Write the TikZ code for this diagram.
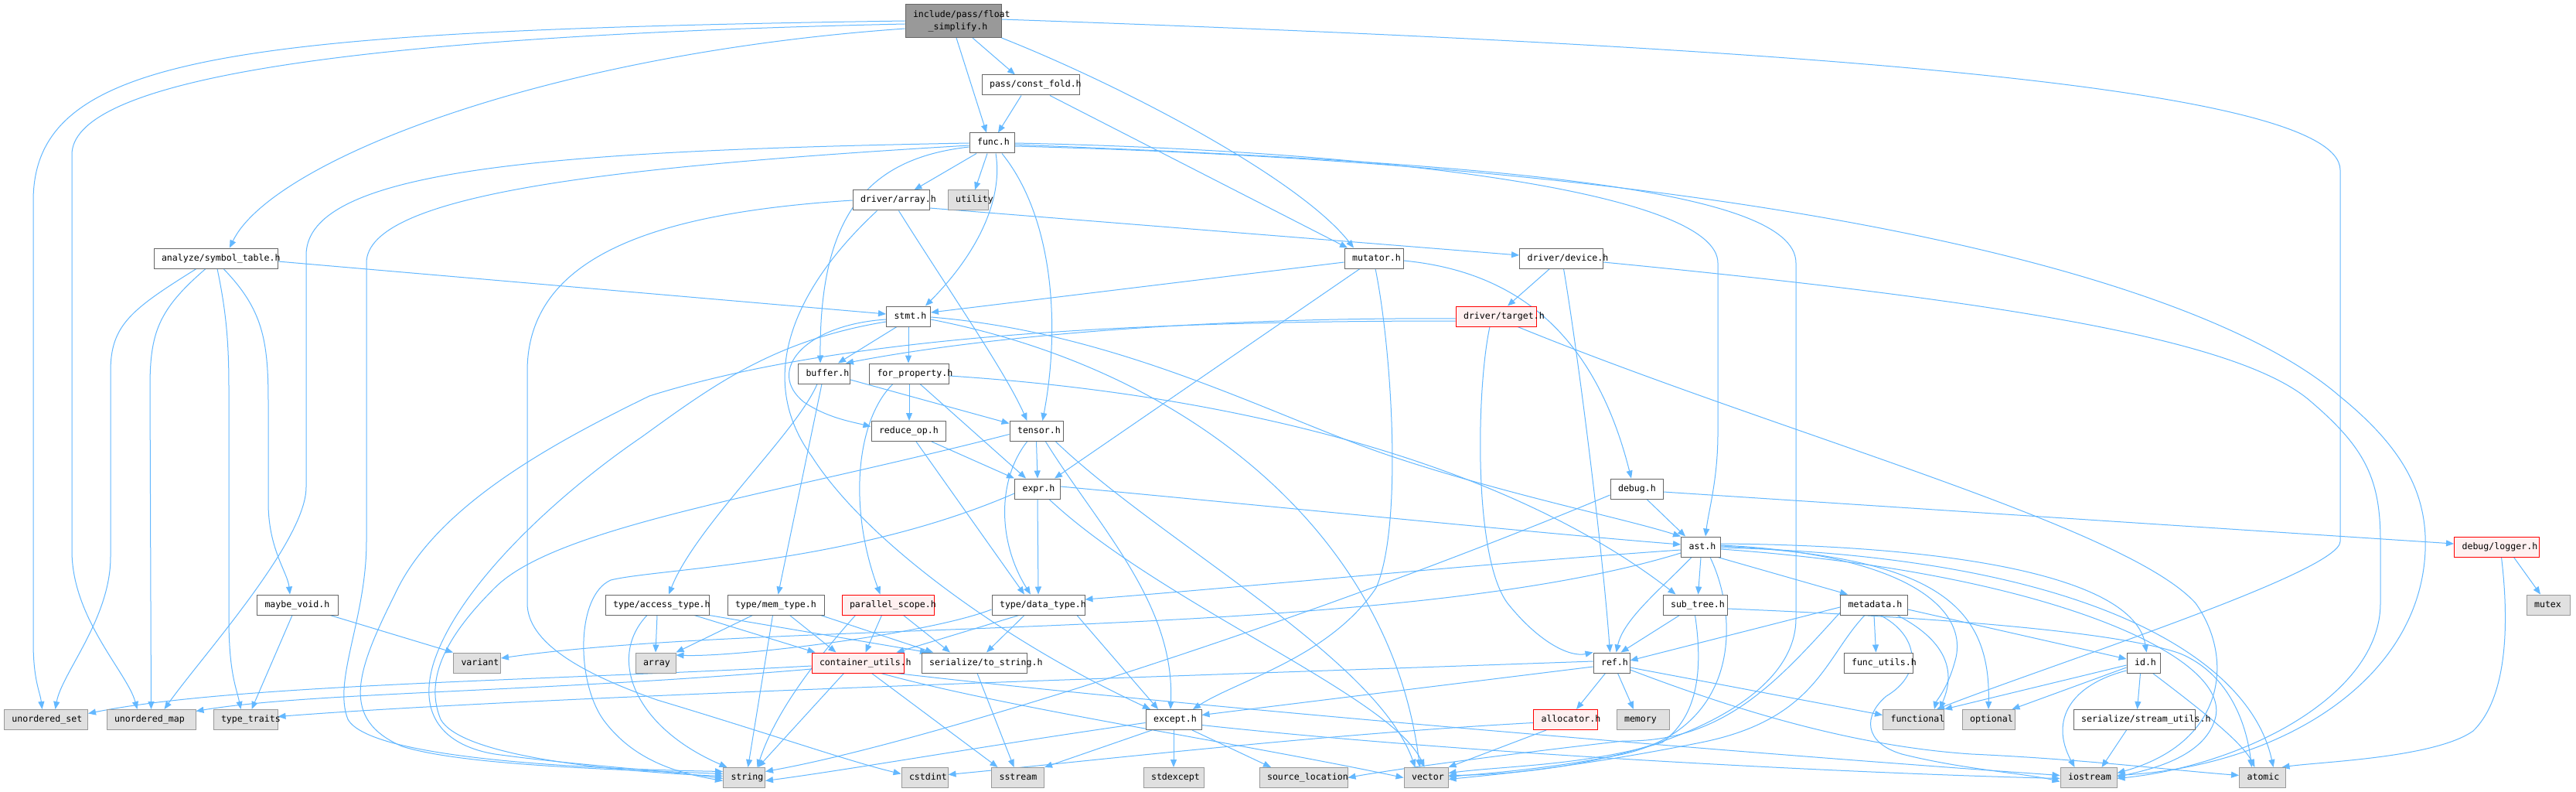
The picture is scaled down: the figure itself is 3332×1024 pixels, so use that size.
\documentclass[tikz,border=0pt]{standalone}
\usepackage{fontspec}
\usetikzlibrary{arrows.meta}
\newfontfamily\nodefont{DejaVu Sans Mono}
\definecolor{edgeblue}{HTML}{63B8FF}
\definecolor{ndborder}{HTML}{666666}
\definecolor{leaffill}{HTML}{E0E0E0}
\definecolor{leafborder}{HTML}{999999}
\definecolor{hotfill}{HTML}{FFF0F0}
\definecolor{rootfill}{HTML}{999999}
\newcommand\nlab[2]{\makebox[0pt][l]{\hspace*{\dimexpr 10pt-#1pt/2\relax}#2}}
\pgfdeclarelayer{bglayer}
\pgfdeclarelayer{edgelayer}
\pgfsetlayers{bglayer,edgelayer,main}
\begin{document}
\begin{tikzpicture}[x=1pt,y=-1pt,
  nd/.style={draw=ndborder, fill=white, line width=1pt, minimum height=26pt, inner sep=0pt,
    text height=8.5pt, text depth=2.5pt, font=\nodefont\fontsize{11.6}{14}\selectfont},
  leaf/.style={nd, draw=leafborder, fill=leaffill},
  hot/.style={nd, draw=red, fill=hotfill},
  bw/.style={minimum width=#1pt},
  rootnd/.style={draw=ndborder, fill=rootfill, line width=1pt, minimum height=43pt, minimum width=124pt,
    inner sep=0pt, align=center, font=\nodefont\fontsize{11.6}{16}\selectfont},
  edg/.style={draw=edgeblue, line width=1pt, -{Triangle[length=10pt,width=8pt]}}
]
\begin{pgfonlayer}{bglayer}
\fill[white] (0,0) rectangle (3332,1024);
\end{pgfonlayer}
\useasboundingbox (0,0) rectangle (3332,1024);

% ---------------- nodes ----------------
\node[rootnd] (root) at (1233,27) {\makebox[0pt][l]{\hspace*{-52pt}include/pass/float}\\\makebox[0pt][c]{\hspace*{12pt}\_simplify.h}};
\node[nd,bw=160] (symtab) at (279,334) {\nlab{160}{analyze/symbol\_table.h}};
\node[nd,bw=126] (constfold) at (1333,110) {\nlab{126}{pass/const\_fold.h}};
\node[nd,bw=58] (func) at (1283,185) {\nlab{58}{func.h}};
\node[nd,bw=99] (darray) at (1152.5,259) {\nlab{99}{driver/array.h}};
\node[leaf,bw=52] (utility) at (1252,259) {\nlab{52}{utility}};
\node[nd,bw=76] (mutator) at (1777,334) {\nlab{76}{mutator.h}};
\node[nd,bw=108] (ddevice) at (2019.5,334) {\nlab{108}{driver/device.h}};
\node[nd,bw=57] (stmt) at (1175,409) {\nlab{57}{stmt.h}};
\node[hot,bw=104] (dtarget) at (1935,409) {\nlab{104}{driver/target.h}};
\node[nd,bw=67] (buffer) at (1066,483) {\nlab{67}{buffer.h}};
\node[nd,bw=103] (forprop) at (1176,483) {\nlab{103}{for\_property.h}};
\node[nd,bw=96] (reduceop) at (1175,557.5) {\nlab{96}{reduce\_op.h}};
\node[nd,bw=69] (tensor) at (1340.5,557.5) {\nlab{69}{tensor.h}};
\node[nd,bw=59] (expr) at (1342,632) {\nlab{59}{expr.h}};
\node[nd,bw=68] (debug) at (2117,632) {\nlab{68}{debug.h}};
\node[nd,bw=51] (ast) at (2200,707) {\nlab{51}{ast.h}};
\node[hot,bw=110] (logger) at (3229.5,707) {\nlab{110}{debug/logger.h}};
\node[nd,bw=105] (maybevoid) at (385,782) {\nlab{105}{maybe\_void.h}};
\node[nd,bw=134] (accesstype) at (850,782) {\nlab{134}{type/access\_type.h}};
\node[nd,bw=125] (memtype) at (1003.5,782) {\nlab{125}{type/mem\_type.h}};
\node[hot,bw=119] (parscope) at (1148.5,782) {\nlab{119}{parallel\_scope.h}};
\node[nd,bw=120] (datatype) at (1343,782) {\nlab{120}{type/data\_type.h}};
\node[nd,bw=83] (subtree) at (2192.5,782) {\nlab{83}{sub\_tree.h}};
\node[nd,bw=87] (metadata) at (2424,782) {\nlab{87}{metadata.h}};
\node[leaf,bw=56] (mutex) at (3296,782) {\nlab{56}{mutex}};
\node[leaf,bw=61] (variant) at (617,857) {\nlab{61}{variant}};
\node[leaf,bw=52] (array) at (848,857) {\nlab{52}{array}};
\node[hot,bw=119] (contutils) at (1109.5,857) {\nlab{119}{container\_utils.h}};
\node[nd,bw=136] (tostring) at (1260,857) {\nlab{136}{serialize/to\_string.h}};
\node[nd,bw=47] (ref) at (2084.5,857) {\nlab{47}{ref.h}};
\node[nd,bw=89] (funcutils) at (2429.5,857) {\nlab{89}{func\_utils.h}};
\node[nd,bw=43] (id) at (2772.5,857) {\nlab{43}{id.h}};
\node[leaf,bw=108] (uset) at (59.5,930.5) {\nlab{108}{unordered\_set}};
\node[leaf,bw=115] (umap) at (195.5,930.5) {\nlab{115}{unordered\_map}};
\node[leaf,bw=83] (typetraits) at (317.5,930.5) {\nlab{83}{type\_traits}};
\node[nd,bw=72] (except) at (1518,930.5) {\nlab{72}{except.h}};
\node[hot,bw=83] (allocator) at (2025,930.5) {\nlab{83}{allocator.h}};
\node[leaf,bw=68] (memory) at (2125,930.5) {\nlab{68}{memory}};
\node[leaf,bw=79] (functional) at (2475,930.5) {\nlab{79}{functional}};
\node[leaf,bw=68] (optional) at (2572,930.5) {\nlab{68}{optional}};
\node[nd,bw=157] (streamutils) at (2760.5,930.5) {\nlab{157}{serialize/stream\_utils.h}};
\node[leaf,bw=54] (string) at (962.5,1005.5) {\nlab{54}{string}};
\node[leaf,bw=60] (cstdint) at (1196,1005.5) {\nlab{60}{cstdint}};
\node[leaf,bw=68] (sstream) at (1316.5,1005.5) {\nlab{68}{sstream}};
\node[leaf,bw=78] (stdexcept) at (1518,1005.5) {\nlab{78}{stdexcept}};
\node[leaf,bw=114] (srcloc) at (1686,1005.5) {\nlab{114}{source\_location}};
\node[leaf,bw=57] (vector) at (1844.5,1005.5) {\nlab{57}{vector}};
\node[leaf,bw=73] (iostream) at (2701.5,1005.5) {\nlab{73}{iostream}};
\node[leaf,bw=60] (atomic) at (2926.5,1005.5) {\nlab{60}{atomic}};

% ---------------- edges ----------------
\begin{pgfonlayer}{edgelayer}
% root
\draw[edg] (root.west) .. controls (300,40) and (43,70) .. (43,260) -- (43,830) .. controls (43,880) and (52,895) .. ([xshift=-5]uset.north);
\draw[edg] ([yshift=-4]root.west) .. controls (400,48) and (93,110) .. (93,200) -- (93,712) .. controls (93,800) and (165,870) .. ([xshift=-18]umap.north);
\draw[edg] ([yshift=-10]root.west) .. controls (700,70) and (350,210) .. ([xshift=18]symtab.north);
\draw[edg] ([xshift=25]root.south) -- ([xshift=-20]constfold.north);
\draw[edg] ([xshift=4]root.south) -- ([xshift=-7]func.north);
\draw[edg] (root.south east) .. controls (1450,110) and (1680,230) .. ([xshift=-26]mutator.north);
\draw[edg] ([yshift=2]root.east) .. controls (2300,60) and (3027,110) .. (3027,220) -- (3027,700) .. controls (3027,740) and (2650,860) .. ([xshift=30]functional.north);
% const_fold
\draw[edg] ([xshift=-12]constfold.south) -- ([xshift=8]func.north);
\draw[edg] ([xshift=25]constfold.south) -- ([xshift=-34]mutator.north);
% symbol_table
\draw[edg] ([yshift=-4]symtab.east) -- ([yshift=3]stmt.west);
\draw[edg] ([xshift=-25]symtab.south) .. controls (170,400) and (143,420) .. (143,480) -- (143,720) .. controls (143,800) and (80,870) .. ([xshift=12]uset.north);
\draw[edg] ([xshift=-13]symtab.south) .. controls (205,400) and (194,430) .. (194,500) -- (umap.north);
\draw[edg] ([xshift=2]symtab.south) .. controls (292,400) and (296,440) .. (296,500) -- (296,800) .. controls (296,870) and (306,890) .. ([xshift=-6]typetraits.north);
\draw[edg] ([xshift=10]symtab.south) .. controls (340,400) and (347,440) .. (347,520) -- (347,650) .. controls (347,710) and (372,740) .. ([xshift=-10]maybevoid.north);
% maybe_void
\draw[edg] ([xshift=-7]maybevoid.south) -- ([xshift=8]typetraits.north);
\draw[edg] ([xshift=42]maybevoid.south) -- (variant.north west);
% func
\draw[edg] (func.west) .. controls (700,195) and (396,220) .. (396,330) -- (396,630) .. controls (396,700) and (260,850) .. ([xshift=17]umap.north);
\draw[edg] ([yshift=-3]func.west) .. controls (800,215) and (474,250) .. (474,340) -- (474,700) .. controls (474,800) and (430,880) .. (450,930) .. controls (480,985) and (800,995) .. ([yshift=8]string.west);
\draw[edg] ([yshift=-5]func.west) .. controls (1120,205) and (1060,280) .. ([xshift=-5]buffer.north);
\draw[edg] ([xshift=-20]func.south) -- ([xshift=30]darray.north);
\draw[edg] ([xshift=-6]func.south) -- ([xshift=9]utility.north);
\draw[edg] ([xshift=5]func.south) .. controls (1298,260) and (1262,330) .. ([xshift=22]stmt.north);
\draw[edg] ([xshift=13]func.south) .. controls (1362,280) and (1372,420) .. ([xshift=8]tensor.north);
\draw[edg] (func.east) .. controls (1800,195) and (2222,250) .. (2222,340) -- (2222,560) .. controls (2222,620) and (2210,660) .. ([xshift=6]ast.north);
\draw[edg] ([yshift=-2]func.east) .. controls (1900,210) and (2323,240) .. (2323,340) -- (2323,800) .. controls (2323,920) and (2100,1000) .. ([yshift=3]vector.east);
\draw[edg] ([yshift=-4]func.east) .. controls (2300,215) and (2850,360) .. (3026,512) .. controls (3110,580) and (3140,640) .. (3137,712) .. controls (3130,880) and (2950,990) .. ([yshift=3]iostream.east);
% driver/array
\draw[edg] (darray.west) .. controls (850,275) and (682,330) .. (682,480) -- (682,780) .. controls (682,830) and (750,870) .. (850,905) .. controls (1000,950) and (1100,985) .. ([yshift=5]cstdint.west);
\draw[edg] ([yshift=-10]darray.east) -- ([yshift=4]ddevice.west);
\draw[edg] ([xshift=10]darray.south) .. controls (1230,380) and (1300,480) .. ([xshift=-12]tensor.north);
\draw[edg] ([xshift=-18]darray.south) .. controls (1040,360) and (970,480) .. (1050,590) .. controls (1120,700) and (1300,830) .. ([xshift=-30]except.north);
% driver/device
\draw[edg] ([xshift=-15]ddevice.south) -- ([xshift=15]dtarget.north);
\draw[edg] ([xshift=3]ddevice.south) .. controls (2040,450) and (2072,700) .. ([xshift=-2]ref.north);
\draw[edg] ([yshift=-5]ddevice.east) .. controls (2600,390) and (2900,440) .. (2990,520) .. controls (3060,580) and (3079,620) .. (3079,700) -- (3079,780) .. controls (3079,900) and (2900,990) .. ([yshift=-1]iostream.east);
% driver/target
\draw[edg] ([yshift=-3]dtarget.west) .. controls (1600,410) and (1300,430) .. ([xshift=28]buffer.north);
\draw[edg] ([yshift=-6]dtarget.west) .. controls (1500,415) and (1100,430) .. (840,512) .. controls (700,580) and (560,660) .. (510,770) .. controls (460,870) and (440,930) .. (520,965) .. controls (600,990) and (800,995) .. ([yshift=5]string.west);
\draw[edg] ([xshift=-8]dtarget.south) .. controls (1910,500) and (1905,720) .. (1950,780) .. controls (1990,830) and (2030,850) .. (ref.north west);
\draw[edg] ([xshift=28]dtarget.south) .. controls (2300,560) and (2750,680) .. (2840,780) .. controls (2890,850) and (2880,960) .. ([yshift=6]iostream.east);
% mutator
\draw[edg] ([yshift=-5]mutator.west) -- ([yshift=5]stmt.east);
\draw[edg] ([xshift=-18]mutator.south) -- ([xshift=22]expr.north);
\draw[edg] ([xshift=2]mutator.south) .. controls (1800,450) and (1815,680) .. (1780,760) .. controls (1720,850) and (1600,880) .. ([xshift=25]except.north);
\draw[edg] ([yshift=-3]mutator.east) .. controls (1950,350) and (2060,420) .. ([xshift=-7]debug.north);
% stmt
\draw[edg] ([xshift=-15]stmt.south) -- ([xshift=18]buffer.north);
\draw[edg] (stmt.south) -- ([xshift=-1]forprop.north);
\draw[edg] ([yshift=-4]stmt.west) .. controls (1040,420) and (990,480) .. (1040,520) .. controls (1070,540) and (1100,545) .. ([yshift=6]reduceop.west);
\draw[edg] ([yshift=-1]stmt.east) .. controls (1450,430) and (1650,540) .. (1800,590) .. controls (1950,640) and (2100,670) .. (ast.north west);
\draw[edg] ([yshift=-7]stmt.west) .. controls (1000,440) and (920,500) .. (830,565) .. controls (720,640) and (590,760) .. (560,860) .. controls (540,930) and (580,965) .. (640,975) .. controls (750,990) and (850,995) .. ([yshift=-1]string.west);
\draw[edg] ([yshift=-4]stmt.east) .. controls (1550,480) and (1800,700) .. ([xshift=-8]vector.north);
% buffer
\draw[edg] ([xshift=-9]buffer.south) .. controls (1030,560) and (900,680) .. ([xshift=15]accesstype.north);
\draw[edg] ([xshift=-3]buffer.south) -- ([xshift=3]memtype.north);
\draw[edg] ([yshift=-8]buffer.east) -- ([yshift=10]tensor.west);
% for_property
\draw[edg] (forprop.south) -- ([xshift=1]reduceop.north);
\draw[edg] ([xshift=14]forprop.south) -- ([xshift=-15]expr.north);
\draw[edg] ([yshift=-3]forprop.east) .. controls (1600,510) and (1950,600) .. ([xshift=-25]subtree.north);
\draw[edg] ([xshift=-21]forprop.south) .. controls (1110,540) and (1095,650) .. ([xshift=-10]parscope.north);
% reduce_op
\draw[edg] ([xshift=30]reduceop.south) -- (expr.north west);
\draw[edg] ([xshift=10]reduceop.south) -- ([xshift=-18]datatype.north);
% tensor
\draw[edg] (tensor.south) -- (expr.north);
\draw[edg] ([xshift=-12]tensor.south) .. controls (1290,620) and (1290,700) .. ([xshift=-10]datatype.north);
\draw[edg] ([yshift=-4]tensor.west) .. controls (1000,640) and (720,680) .. (640,760) .. controls (590,810) and (545,870) .. (570,930) .. controls (600,985) and (850,1000) .. ([yshift=2]string.west);
\draw[edg] ([xshift=12]tensor.south) .. controls (1420,680) and (1520,780) .. ([xshift=-4]except.north);
\draw[edg] ([xshift=25]tensor.south) .. controls (1500,700) and (1780,850) .. ([xshift=-14]vector.north);
% expr
\draw[edg] ([yshift=3]expr.east) .. controls (1700,660) and (2000,690) .. ([yshift=3]ast.west);
\draw[edg] (expr.south) -- (datatype.north);
\draw[edg] ([yshift=-6]expr.west) .. controls (1100,730) and (850,735) .. (790,750) .. controls (745,770) and (745,880) .. (780,930) .. controls (820,985) and (880,1000) .. ([yshift=-4]string.west);
\draw[edg] ([xshift=15]expr.south) .. controls (1500,780) and (1800,900) .. ([xshift=-2]vector.north);
% debug
\draw[edg] ([xshift=13]debug.south) -- ([xshift=-20]ast.north);
\draw[edg] ([yshift=-4]debug.east) -- ([yshift=4]logger.west);
\draw[edg] ([yshift=-8]debug.west) .. controls (1700,800) and (1200,960) .. ([yshift=8]string.east);
% logger
\draw[edg] ([xshift=22]logger.south) -- ([xshift=-10]mutex.north);
\draw[edg] ([xshift=6]logger.south) .. controls (3245,800) and (3245,900) .. (3199,945) .. controls (3150,980) and (3000,985) .. ([xshift=25]atomic.north);
% ast
\draw[edg] ([yshift=-4]ast.west) .. controls (1900,730) and (1600,760) .. ([yshift=7]datatype.east);
\draw[edg] ([yshift=-8]ast.west) .. controls (1800,830) and (1000,800) .. ([yshift=6]variant.east);
\draw[edg] (ast.south) -- ([xshift=4]subtree.north);
\draw[edg] ([xshift=22]ast.south) -- ([xshift=-34]metadata.north);
\draw[edg] ([xshift=-12]ast.south) .. controls (2150,760) and (2100,800) .. ([xshift=6]ref.north);
\draw[edg] ([yshift=4]ast.east) .. controls (2500,705) and (2760,740) .. ([xshift=4]id.north);
\draw[edg] ([yshift=2]ast.east) .. controls (2450,715) and (2545,780) .. (2530,850) .. controls (2520,890) and (2505,905) .. ([xshift=27]functional.north);
\draw[edg] ([yshift=1]ast.east) .. controls (2500,720) and (2575,780) .. (optional.north);
\draw[edg] ([yshift=-1]ast.east) .. controls (2700,720) and (2910,850) .. ([xshift=14]atomic.north);
\draw[edg] ([yshift=-3]ast.east) .. controls (2650,740) and (2890,850) .. (2865,930) .. controls (2850,980) and (2780,995) .. ([yshift=1]iostream.east);
\draw[edg] ([xshift=12]ast.south) .. controls (2250,800) and (2250,940) .. (2100,975) .. controls (2000,995) and (1920,1000) .. ([yshift=1]vector.east);
% access_type
\draw[edg] (accesstype.south) -- (array.north);
\draw[edg] ([xshift=-13]accesstype.south) .. controls (785,850) and (820,940) .. ([xshift=-22]string.north);
\draw[edg] ([xshift=48]accesstype.south) -- ([xshift=-55]contutils.north);
\draw[edg] (accesstype.south east) -- ([xshift=-60]tostring.north);
% mem_type
\draw[edg] ([xshift=-30]memtype.south) -- (array.north east);
\draw[edg] ([xshift=-4]memtype.south) -- ([xshift=5]string.north);
\draw[edg] ([xshift=18]memtype.south) -- ([xshift=-28]contutils.north);
\draw[edg] ([xshift=58]memtype.south) -- ([xshift=-53]tostring.north);
% parallel_scope
\draw[edg] ([xshift=-8]parscope.south) -- ([xshift=10]contutils.north);
\draw[edg] ([xshift=20]parscope.south) -- ([xshift=-31]tostring.north);
\draw[edg] ([xshift=-42]parscope.south) .. controls (1040,870) and (1000,930) .. ([xshift=17]string.north);
% data_type
\draw[edg] ([xshift=-25]datatype.south) -- ([xshift=50]contutils.north);
\draw[edg] ([xshift=-18]datatype.south) -- ([xshift=16]tostring.north);
\draw[edg] ([xshift=50]datatype.south) -- ([xshift=-20]except.north);
\draw[edg] ([yshift=-6]datatype.west) .. controls (1200,820) and (950,850) .. ([yshift=10]array.east);
% sub_tree
\draw[edg] ([xshift=-20]subtree.south) -- ([xshift=12]ref.north);
\draw[edg] (subtree.south) .. controls (2205,880) and (2190,930) .. (2150,960) .. controls (2050,990) and (1950,990) .. ([yshift=6]vector.east);
\draw[edg] ([yshift=-5]subtree.east) .. controls (2550,800) and (2750,820) .. (2820,845) .. controls (2880,870) and (2905,930) .. ([xshift=-14]atomic.north);
% metadata
\draw[edg] ([yshift=-3]metadata.west) -- ([yshift=3]ref.east);
\draw[edg] (metadata.south) -- ([xshift=-3]funcutils.north);
\draw[edg] ([xshift=30]metadata.south) .. controls (2540,840) and (2520,890) .. ([xshift=34]functional.north);
\draw[edg] ([xshift=8]metadata.south) .. controls (2480,820) and (2490,870) .. (2440,900) .. controls (2410,925) and (2410,960) .. (2460,975) .. controls (2540,995) and (2620,1000) .. ([yshift=-5]iostream.west);
\draw[edg] ([xshift=-12]metadata.south) .. controls (2360,850) and (2350,930) .. (2200,960) .. controls (2050,990) and (1950,1000) .. ([yshift=-2]vector.east);
\draw[edg] ([yshift=-6]metadata.east) -- ([yshift=5]id.west);
\draw[edg] ([yshift=-10]metadata.west) .. controls (2300,880) and (2230,960) .. (2100,958) .. controls (1950,975) and (1800,995) .. (srcloc.east);
% ref
\draw[edg] ([xshift=-8]ref.south) -- ([xshift=14]allocator.north);
\draw[edg] ([xshift=8]ref.south) -- ([xshift=-12]memory.north);
\draw[edg] ([yshift=-6]ref.east) -- ([yshift=6]functional.west);
\draw[edg] ([yshift=-5]ref.west) -- ([yshift=6]except.east);
\draw[edg] ([yshift=2]ref.west) .. controls (1500,875) and (700,900) .. ([yshift=4]typetraits.east);
\draw[edg] ([yshift=-9]ref.east) .. controls (2250,920) and (2400,965) .. (2550,975) .. controls (2700,982) and (2800,995) .. ([yshift=3]atomic.west);
% allocator
\draw[edg] ([xshift=-25]allocator.south) -- (vector.north east);
\draw[edg] ([yshift=-4]allocator.west) .. controls (1700,950) and (1400,985) .. ([yshift=4]cstdint.east);
% id
\draw[edg] ([yshift=-3]id.west) -- (functional.north east);
\draw[edg] ([yshift=-6]id.west) -- ([xshift=-4]optional.north east);
\draw[edg] ([yshift=-10]id.west) .. controls (2680,885) and (2650,930) .. ([xshift=-18]iostream.north);
\draw[edg] ([xshift=-4]id.south) -- ([xshift=4]streamutils.north);
\draw[edg] ([xshift=12]id.south) .. controls (2850,920) and (2900,960) .. ([xshift=-10]atomic.north);
% stream_utils
\draw[edg] ([xshift=-10]streamutils.south) -- ([xshift=17]iostream.north);
% container_utils
\draw[edg] ([yshift=-4]contutils.west) .. controls (700,880) and (300,885) .. ([yshift=8]uset.east);
\draw[edg] ([yshift=-8]contutils.west) .. controls (700,895) and (400,895) .. ([yshift=11]umap.east);
\draw[edg] ([xshift=-18]contutils.south) -- ([xshift=18]string.north);
\draw[edg] ([xshift=18]contutils.south) -- ([xshift=-26]sstream.north);
\draw[edg] ([xshift=30]contutils.south) .. controls (1300,915) and (1600,960) .. (vector.west);
\draw[edg] ([xshift=50]contutils.south) .. controls (1500,910) and (2200,970) .. ([yshift=3]iostream.west);
% serialize/to_string
\draw[edg] ([xshift=4]tostring.south) -- ([xshift=-5]sstream.north);
% except
\draw[edg] ([yshift=-4]except.west) .. controls (1300,960) and (1100,995) .. ([yshift=-4]string.east);
\draw[edg] ([xshift=-28]except.south) -- (sstream.north east);
\draw[edg] (except.south) -- (stdexcept.north);
\draw[edg] ([xshift=24]except.south) -- ([xshift=-42]srcloc.north);
\draw[edg] ([yshift=-7]except.east) .. controls (1900,975) and (2400,1000) .. ([yshift=-1]iostream.west);
\end{pgfonlayer}
\end{tikzpicture}
\end{document}
